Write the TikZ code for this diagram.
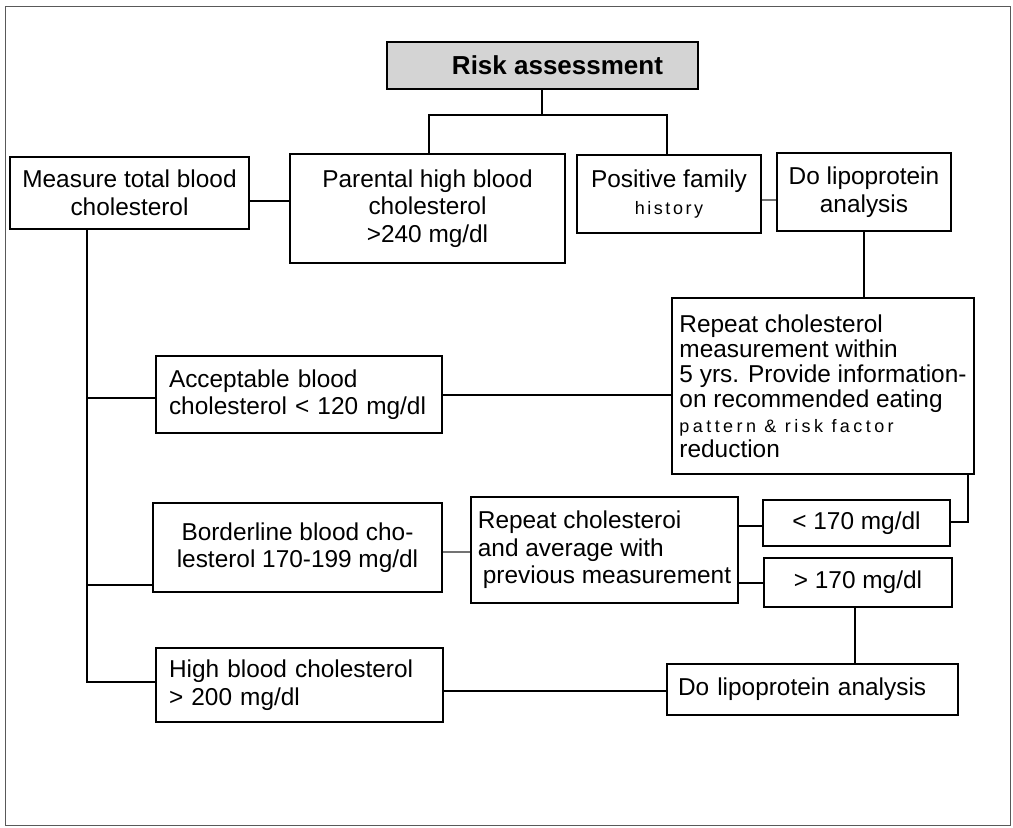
\documentclass[tikz,border=0pt]{standalone}
\usepackage{fontspec}
\setmainfont{Liberation Sans}
\newfontfamily\spacedfont[LetterSpace=14]{Liberation Sans}
\newfontfamily\widerfont[LetterSpace=19]{Liberation Sans}
\begin{document}
\begin{tikzpicture}[x=1pt,y=-1pt,
  box/.style={draw=black, line width=1.6pt, inner sep=0pt, fill=white,
    font=\fontsize{24.4}{27.5}\selectfont, align=center},
  conn/.style={draw=black, line width=1.6pt},
  faint/.style={draw=black!55, line width=1.9pt}]
\useasboundingbox (0,0) rectangle (1013,828);
\draw[black!65, line width=1pt] (5,6) rectangle (1010,825);

% nodes
\node[box, fill=black!17, minimum width=311pt, minimum height=47pt,
  font=\fontsize{26}{30}\selectfont\bfseries] (risk) at (542.5,65.5) {\hspace*{30pt}Risk assessment};
\node[box, minimum width=239pt, minimum height=72pt] (measure) at (129.5,193)
  {Measure total blood\\cholesterol};
\node[box, minimum width=275pt, minimum height=109pt] (parental) at (427.5,208.5)
  {Parental high blood\\cholesterol\\>240 mg/dl};
\node[box, minimum width=184pt, minimum height=78pt] (positive) at (669,194)
  {Positive family\\{\spacedfont\fontsize{18}{20}\selectfont history}};
\node[box, minimum width=174pt, minimum height=78pt] (lipoA) at (864,192)
  {Do lipoprotein\\analysis};
\node[box, minimum width=302pt, minimum height=176pt, align=left,
  font=\fontsize{24.4}{25}\selectfont] (repeatA) at (823,386)
  {Repeat cholesterol\\measurement within\\5 yrs. Provide information-\\on recommended eating\\{\widerfont\fontsize{18}{20}\selectfont pattern \& risk factor}\\reduction};
\node[box, minimum width=286pt, minimum height=77pt, align=left,
  text width=260pt, inner xsep=13pt] (accept) at (299,394.5)
  {Acceptable blood\\cholesterol < 120 mg/dl};
\node[box, minimum width=289pt, minimum height=89pt] (border) at (297.5,547.5)
  {Borderline blood cho-\\lesterol 170-199 mg/dl};
\node[box, minimum width=267pt, minimum height=106pt, align=left] (repeatB) at (604.5,550)
  {Repeat cholesteroi\\and average with\\\hspace*{5pt}previous measurement};
\node[box, minimum width=187pt, minimum height=46pt] (lt) at (856.5,523) {< 170 mg/dl};
\node[box, minimum width=188pt, minimum height=49pt] (gt) at (858,582.5) {> 170 mg/dl};
\node[box, minimum width=287pt, minimum height=74pt, align=left,
  text width=261pt, inner xsep=13pt] (high) at (299.5,685)
  {High blood cholesterol\\> 200 mg/dl};
\node[box, minimum width=291pt, minimum height=51pt, align=left,
  text width=269pt, inner xsep=11pt] (lipoB) at (812.5,689.5)
  {Do lipoprotein analysis};

% helper coordinates
\coordinate (jl) at (429,115);
\coordinate (jr) at (667,115);
\coordinate (jm) at (542,115);
\coordinate (ymp) at (0,201);
\coordinate (ypl) at (0,200);
\coordinate (tx) at (87,0);
\coordinate (ya) at (0,398);
\coordinate (yb) at (0,585);
\coordinate (yh) at (0,682);
\coordinate (yar) at (0,395);
\coordinate (ybr) at (0,552);
\coordinate (ylt) at (0,526);
\coordinate (ygt) at (0,583);
\coordinate (rx) at (968,0);
\coordinate (ylr) at (0,522);
\coordinate (gx) at (855,0);
\coordinate (yhl) at (0,691);

% connectors
\draw[conn] (risk.south -| jm) -- (jm);
\draw[conn] (parental.north -| jl) -- (jl) -- (jr) -- (positive.north -| jr);
\draw[conn] (measure.east |- ymp) -- (parental.west |- ymp);
\draw[faint] (positive.east |- ypl) -- (lipoA.west |- ypl);
\draw[conn] (lipoA.south) -- (lipoA.south |- repeatA.north);
\draw[conn] (measure.south -| tx) -- (tx |- yh) -- (high.west |- yh);
\draw[conn] (tx |- ya) -- (accept.west |- ya);
\draw[conn] (tx |- yb) -- (border.west |- yb);
\draw[conn] (accept.east |- yar) -- (repeatA.west |- yar);
\draw[faint] (border.east |- ybr) -- (repeatB.west |- ybr);
\draw[conn] (repeatB.east |- ylt) -- (lt.west |- ylt);
\draw[conn] (repeatB.east |- ygt) -- (gt.west |- ygt);
\draw[conn] (repeatA.south -| rx) -- (rx |- ylr) -- (lt.east |- ylr);
\draw[conn] (gt.south -| gx) -- (lipoB.north -| gx);
\draw[conn] (high.east |- yhl) -- (lipoB.west |- yhl);
\end{tikzpicture}
\end{document}
